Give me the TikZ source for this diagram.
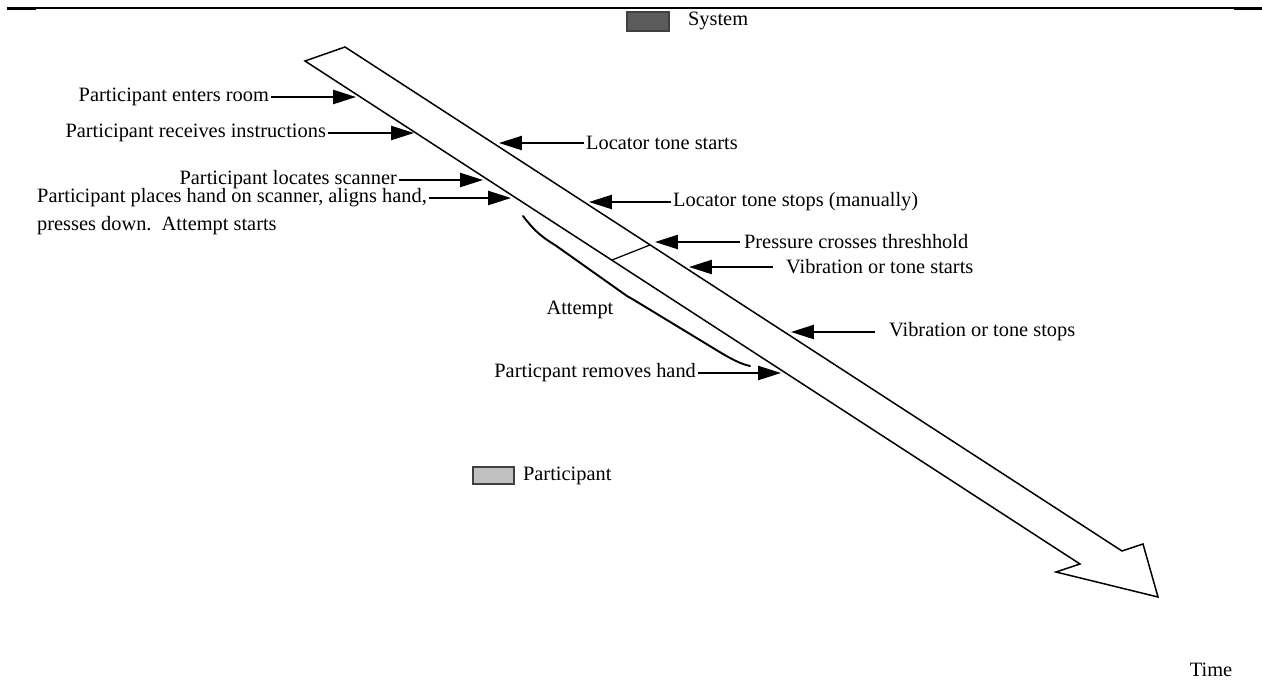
\documentclass[tikz,border=0pt]{standalone}
\usepackage{fontspec}
\setmainfont{Liberation Serif}
\usetikzlibrary{arrows.meta}
\definecolor{systemgray}{RGB}{92,92,92}
\definecolor{partgray}{RGB}{192,192,192}

\begin{document}
\begin{tikzpicture}[x=0.02cm, y=-0.02cm,
    lbl/.style={inner sep=1pt, font=\fontsize{11.6}{14}\selectfont},
    ptr/.style={line width=1.1pt, -{Triangle[length=13pt,width=8pt]}}]
    \useasboundingbox (0,0) rectangle (1262,684);

    % Top rule
    \draw[line width=0.6pt] (7,8) -- (1262,8);
    \draw[line width=1.3pt] (7,9) -- (36,9);
    \draw[line width=1.3pt] (1234,9) -- (1262,9);

    % Legend
    \filldraw[fill=systemgray, draw=black!75, line width=0.6pt] (627,12) rectangle (669,31);
    \node[lbl, anchor=west] (system) at (686,21) {System};
    \filldraw[fill=partgray, draw=black!75, line width=0.6pt] (473,467) rectangle (514,484);
    \node[lbl, anchor=west] (participant) at (521,476) {Participant};

    % Time arrow
    \draw[line width=0.85pt, line join=miter]
      (345,47) -- (1122,551) -- (1143,544) -- (1158,597) -- (1056,572) -- (1080,564) -- (305,61) -- cycle;
    \draw[line width=0.7pt] (612,260) -- (650,245);
    \node[lbl] (time) at (1211,670) {Time};

    % Attempt brace
    \draw[line width=1.1pt, line cap=round]
      (523,216) .. controls (533,229) and (540,236) .. (555,245) -- (627,296) -- (634,300)
      -- (718,351) .. controls (733,360) and (741,364) .. (750,366);
    \node[lbl] (attempt) at (580,310) {Attempt};

    % Participant events (left)
    \foreach \nm/\lx/\ly/\tipx/\txt in {enter/271/97/356/Participant enters room,
        instr/328/133/414/Participant receives instructions,
        locate/399/180/483/Participant locates scanner,
        place/429/198/511/{Participant places hand on scanner, aligns hand,},
        remove/698/373/781/Particpant removes hand} {
        \node[lbl, anchor=east] (\nm) at (\lx,\ly) {\txt};
        \coordinate (\nm-tip) at (\tipx,\ly);
        \draw[ptr] (\nm.east) -- (\nm-tip);
      }
    \node[lbl, anchor=west] (place2) at ([yshift=-0.56cm]place.west) {presses down.\ \ Attempt starts};

    % System events (right)
    \foreach \nm/\lx/\ly/\tipx/\gp/\txt in {tstart/584/143/499/0/Locator tone starts,
        tstop/671/202/589/0/Locator tone stops (manually),
        press/742/242/655/2/Pressure crosses threshhold,
        vstart/784/267/689/11/Vibration or tone starts,
        vstop/887/332/791/12/Vibration or tone stops} {
        \node[lbl, anchor=west] (\nm) at (\lx,\ly) {\txt};
        \coordinate (\nm-tip) at (\tipx,\ly);
        \draw[ptr, shorten <=\gp*0.2mm] (\nm.west) -- (\nm-tip);
      }
  \end{tikzpicture}
\end{document}
